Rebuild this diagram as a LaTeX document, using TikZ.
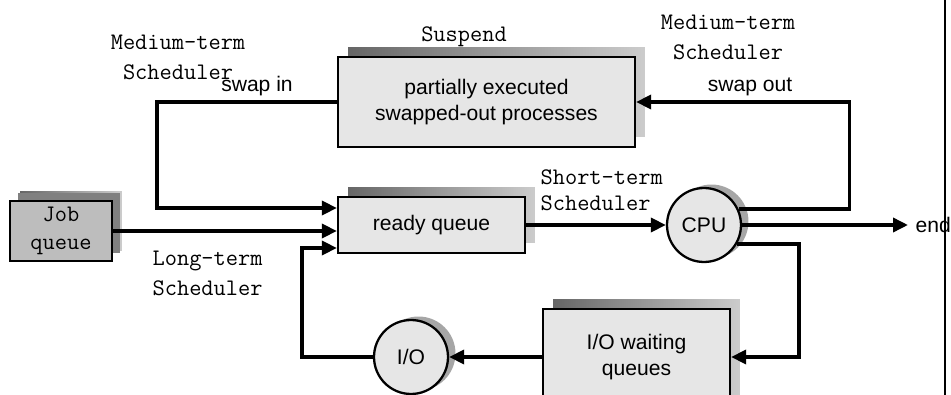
\documentclass[tikz,border=0pt]{standalone}
\usepackage{fontspec}
\setmainfont{Liberation Sans}
\usetikzlibrary{arrows.meta,positioning,calc,shadows}
\definecolor{boxgray}{RGB}{230,230,230}
\definecolor{jobgray}{RGB}{189,189,189}

\begin{document}
\begin{tikzpicture}[x=0.02cm, y=-0.02cm, line width=2pt, >={Triangle[length=0.3cm,width=0.28cm]}]
    \tikzstyle{box}=[draw, line width=1.3pt, fill=boxgray, align=center, font=\fontsize{12}{15}\selectfont,
      general shadow={shadow xshift=0.2cm, shadow yshift=0.2cm, left color=black!60, right color=black!20}]
    \tikzstyle{stage}=[circle, draw, line width=1.3pt, fill=boxgray, minimum size=1.48cm, inner sep=0pt,
      font=\fontsize{12}{15}\selectfont, general shadow={shadow xshift=0.15cm, shadow yshift=0.07cm, fill=black!35}]
    \tikzstyle{sched}=[align=left, font=\ttfamily\fontsize{13.5}{17}\selectfont]
    \tikzstyle{tag}=[font=\fontsize{12}{15}\selectfont]
    \useasboundingbox (0,0) rectangle (951,395);
    \clip (0,0) rectangle (951,395);
    % boxes and stages
    \node[box, minimum width=5.94cm, minimum height=1.8cm] (susp) at (486.5,102) {partially executed\\swapped-out processes};
    \node[box, minimum width=3.74cm, minimum height=1.12cm] (ready) at (431.5,225) {ready queue};
    \node[box, minimum width=2.04cm, minimum height=1.06cm, fill=jobgray, font=\ttfamily\fontsize{13.5}{16}\selectfont,
      general shadow={shadow xshift=0.16cm, shadow yshift=0.16cm, fill=black!50}] (job) at (61,231) {Job\\queue};
    \node[stage] (cpu) at (704,225) {CPU};
    \node[box, minimum width=3.74cm, minimum height=1.92cm] (iow) at (636.5,357) {I/O waiting\\queues};
    \node[stage] (io) at (411,357) {I/O};
    \node[anchor=west, tag] (end) at (908,225) {end};
    % labels
    \node[sched] (suspl) at (464,37) {Suspend};
    \node[sched, align=center] (medl) at (178,57) {Medium-term\\ Scheduler};
    \node[sched, align=center] (medr) at (728,37) {Medium-term\\ Scheduler};
    \node[sched, anchor=west, font=\ttfamily\fontsize{13.5}{15}\selectfont] (shortl) at (533,190) {Short-term\\Scheduler};
    \node[sched, anchor=west] (longl) at (145,273) {Long-term\\Scheduler};
    \node[tag] (swin) at (257,86) {swap in};
    \node[tag] (swout) at (750,87) {swap out};
    % connectors
    \draw[->] (susp.west) -- ++(-180,0) |- ([yshift=0.34cm]ready.west);
    \draw[->] (job.east) -- (job.east -| ready.west);
    \draw[->] (io.west) -- ++(-71,0) |- ([yshift=-0.46cm]ready.west);
    \draw[->] (ready) -- (cpu);
    \draw[->] (cpu.25) -- ++(111,0) |- (susp.east);
    \draw[->] (cpu) -- (end);
    \draw[->] (cpu.-30) -- ++(62,0) |- (iow.east);
    \draw[->] (iow) -- (io);
    \draw[line width=1.2pt] (945,0) -- (945,395);
  \end{tikzpicture}
\end{document}
